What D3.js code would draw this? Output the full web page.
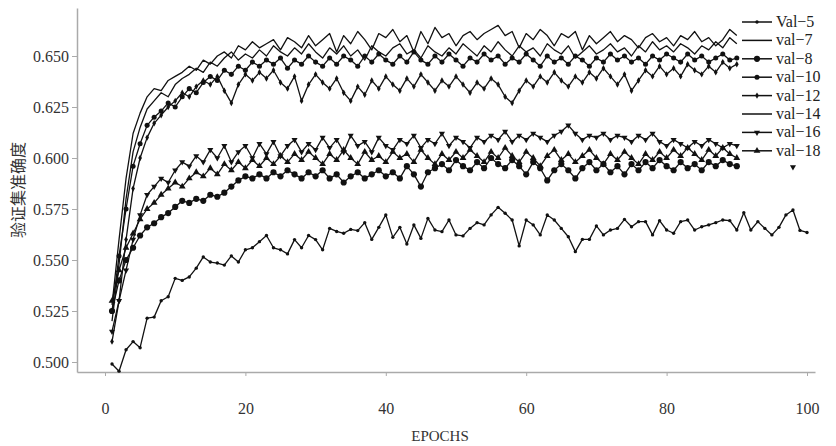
<!DOCTYPE html>
<html>
<head>
<meta charset="utf-8">
<script src="https://cdnjs.cloudflare.com/ajax/libs/d3/7.8.5/d3.min.js"></script>
<style>
  body { margin: 0; background: #fff; }
</style>
</head>
<body>
<div class="chart"></div>
<script>
// legend labels, top to bottom
const names = ["Val\u22125", "val\u22127", "val\u22128", "val\u221210", "val\u221212", "val\u221214", "val\u221216", "val\u221218"];
const xTicks = [0, 20, 40, 60, 80, 100];
const yTicks = [0.500, 0.525, 0.550, 0.575, 0.600, 0.625, 0.650];

// validation accuracy per epoch, starting at epoch 1
const val5 = [0.499,0.4955,0.506,0.510,0.507,0.5215,0.522,0.530,0.532,0.541,0.540,0.5417,0.546,0.5515,0.549,0.5485,0.5475,0.552,0.549,0.555,
  0.556,0.559,0.562,0.556,0.555,0.553,0.560,0.556,0.562,0.560,0.555,0.5655,0.564,0.5631,0.565,0.5644,0.5683,0.5601,0.566,0.5721,
  0.5611,0.566,0.5578,0.5672,0.5606,0.5704,0.5647,0.5639,0.5696,0.5623,0.5618,0.5655,0.5683,0.5672,0.5721,0.5758,0.5729,0.5696,0.5569,0.5696,
  0.5672,0.5623,0.5721,0.5696,0.5655,0.5614,0.5541,0.5601,0.5601,0.5667,0.5623,0.5647,0.5655,0.5699,0.5663,0.5688,0.5688,0.5623,0.5693,0.5647,
  0.5631,0.5688,0.5696,0.5647,0.5663,0.5672,0.5683,0.5696,0.5693,0.5647,0.5732,0.5647,0.5688,0.5655,0.5623,0.566,0.5721,0.5745,0.5645,0.5635];
const val7 = [0.528,0.560,0.590,0.612,0.622,0.630,0.634,0.633,0.638,0.640,0.642,0.645,0.643,0.648,0.646,0.650,0.652,0.649,0.655,0.653,
  0.657,0.654,0.656,0.658,0.653,0.659,0.657,0.654,0.660,0.655,0.658,0.661,0.652,0.660,0.656,0.662,0.658,0.653,0.661,0.659,
  0.663,0.657,0.660,0.652,0.662,0.656,0.664,0.659,0.661,0.655,0.660,0.662,0.658,0.661,0.663,0.665,0.660,0.662,0.654,0.661,
  0.658,0.663,0.660,0.655,0.661,0.659,0.662,0.653,0.660,0.656,0.659,0.662,0.657,0.660,0.658,0.654,0.659,0.661,0.657,0.659,
  0.655,0.660,0.658,0.662,0.657,0.659,0.655,0.658,0.663,0.660];
const val8 = [0.525,0.540,0.550,0.556,0.562,0.566,0.568,0.571,0.573,0.576,0.579,0.578,0.580,0.579,0.582,0.581,0.583,0.586,0.589,0.591,
  0.590,0.592,0.590,0.593,0.591,0.594,0.592,0.590,0.593,0.591,0.594,0.590,0.592,0.588,0.591,0.593,0.590,0.592,0.594,0.591,
  0.593,0.590,0.596,0.592,0.586,0.593,0.595,0.597,0.594,0.599,0.596,0.594,0.598,0.595,0.600,0.597,0.595,0.599,0.596,0.592,
  0.598,0.595,0.589,0.594,0.597,0.594,0.590,0.595,0.598,0.594,0.597,0.593,0.596,0.592,0.597,0.594,0.598,0.595,0.599,0.596,
  0.594,0.598,0.595,0.597,0.594,0.598,0.596,0.599,0.597,0.596];
const val10 = [0.525,0.552,0.575,0.596,0.607,0.616,0.620,0.623,0.627,0.625,0.630,0.634,0.632,0.637,0.640,0.638,0.643,0.641,0.645,0.643,
  0.647,0.645,0.648,0.646,0.649,0.644,0.648,0.646,0.650,0.647,0.645,0.649,0.646,0.650,0.648,0.645,0.650,0.647,0.651,0.648,
  0.646,0.650,0.647,0.652,0.648,0.646,0.650,0.647,0.651,0.648,0.645,0.649,0.647,0.651,0.648,0.650,0.646,0.649,0.647,0.651,
  0.648,0.645,0.650,0.647,0.649,0.646,0.650,0.648,0.645,0.649,0.647,0.651,0.648,0.650,0.647,0.649,0.646,0.650,0.648,0.651,
  0.649,0.647,0.651,0.648,0.650,0.647,0.649,0.651,0.648,0.649];
const val12 = [0.510,0.530,0.560,0.585,0.600,0.610,0.617,0.621,0.625,0.628,0.632,0.630,0.635,0.638,0.636,0.640,0.633,0.627,0.636,0.641,
  0.638,0.642,0.639,0.643,0.637,0.634,0.640,0.628,0.636,0.641,0.637,0.634,0.639,0.632,0.628,0.635,0.631,0.638,0.634,0.640,
  0.636,0.633,0.639,0.635,0.641,0.637,0.633,0.638,0.635,0.640,0.636,0.632,0.637,0.634,0.639,0.636,0.630,0.627,0.633,0.638,
  0.635,0.640,0.637,0.642,0.638,0.635,0.640,0.637,0.642,0.639,0.644,0.640,0.636,0.641,0.633,0.638,0.643,0.640,0.645,0.641,
  0.644,0.640,0.646,0.643,0.641,0.645,0.642,0.647,0.644,0.646];
const val14 = [0.520,0.548,0.580,0.603,0.615,0.624,0.628,0.632,0.630,0.636,0.639,0.641,0.644,0.642,0.647,0.645,0.649,0.652,0.648,0.651,
  0.649,0.653,0.650,0.655,0.652,0.650,0.654,0.651,0.656,0.652,0.649,0.654,0.651,0.655,0.650,0.653,0.648,0.655,0.652,0.650,
  0.654,0.656,0.651,0.653,0.649,0.655,0.652,0.650,0.654,0.651,0.656,0.653,0.650,0.655,0.652,0.657,0.653,0.650,0.655,0.652,
  0.654,0.650,0.656,0.653,0.651,0.655,0.649,0.652,0.655,0.651,0.653,0.656,0.652,0.654,0.650,0.655,0.652,0.657,0.653,0.655,
  0.652,0.656,0.654,0.651,0.655,0.653,0.657,0.654,0.659,0.656];
const val16 = [0.515,0.530,0.545,0.560,0.572,0.582,0.586,0.590,0.588,0.594,0.598,0.596,0.601,0.598,0.604,0.600,0.606,0.598,0.603,0.606,
  0.600,0.607,0.602,0.608,0.601,0.606,0.609,0.603,0.607,0.604,0.610,0.605,0.609,0.603,0.611,0.606,0.608,0.603,0.610,0.606,
  0.604,0.609,0.607,0.611,0.605,0.609,0.607,0.612,0.606,0.610,0.608,0.605,0.610,0.608,0.611,0.609,0.613,0.608,0.611,0.609,
  0.612,0.610,0.608,0.611,0.613,0.616,0.612,0.609,0.611,0.610,0.612,0.609,0.611,0.610,0.608,0.611,0.609,0.612,0.608,0.606,
  0.609,0.607,0.605,0.608,0.606,0.609,0.607,0.605,0.607,0.606,null,null,null,null,null,null,null,0.5956];
const val18 = [0.530,0.545,0.556,0.563,0.570,0.575,0.578,0.582,0.585,0.588,0.586,0.590,0.593,0.591,0.595,0.592,0.597,0.594,0.598,0.595,
  0.599,0.596,0.600,0.597,0.601,0.598,0.602,0.599,0.603,0.600,0.597,0.602,0.599,0.604,0.600,0.597,0.603,0.599,0.601,0.598,
  0.603,0.600,0.602,0.598,0.604,0.600,0.597,0.602,0.599,0.603,0.600,0.604,0.601,0.598,0.603,0.600,0.605,0.601,0.598,0.603,
  0.600,0.596,0.601,0.604,0.599,0.602,0.598,0.601,0.604,0.600,0.597,0.602,0.599,0.603,0.600,0.597,0.602,0.599,0.603,0.600,
  0.604,0.601,0.605,0.602,0.599,0.604,0.601,0.605,0.602,0.600];

const valuesList = [val5, val7, val8, val10, val12, val14, val16, val18];
const markers = [
  {type: d3.symbolCircle, size: 9, rot: 0},
  null,
  {type: d3.symbolCircle, size: 30, rot: 0},
  {type: d3.symbolCircle, size: 20, rot: 0},
  {type: d3.symbolDiamond, size: 12, rot: 0},
  null,
  {type: d3.symbolTriangle, size: 16, rot: 180},
  {type: d3.symbolTriangle, size: 20, rot: 0}
];

const serif = "'Liberation Serif', 'Times New Roman', serif";
const width = 836, height = 446;
const svg = d3.select(".chart").append("svg")
  .attr("width", width)
  .attr("height", height);

const x = d3.scaleLinear().domain([0, 100]).range([105, 807]);
const y = d3.scaleLinear().domain([0.5, 0.65]).range([362, 56]);

// axes reach a bit past the ticks, like the original
const xAxisScale = d3.scaleLinear().domain([x.invert(77), x.invert(815)]).range([77, 815]);
const yAxisScale = d3.scaleLinear().domain([y.invert(372), y.invert(8)]).range([372, 8]);

const axisColor = "#aaa";
const gx = svg.append("g")
  .attr("transform", "translate(0,372)")
  .call(d3.axisBottom(xAxisScale).tickValues(xTicks).tickSize(5).tickSizeOuter(0).tickPadding(26).tickFormat(d3.format("d")));
const gy = svg.append("g")
  .attr("transform", "translate(77,0)")
  .call(d3.axisLeft(yAxisScale).tickValues(yTicks).tickSize(5).tickSizeOuter(0).tickPadding(3).tickFormat(d3.format(".3f")));
[gx, gy].forEach(g => {
  g.attr("font-family", serif).attr("font-size", 16);
  g.select(".domain").attr("stroke", axisColor).attr("stroke-width", 1.5);
  g.selectAll(".tick line").attr("stroke", axisColor);
  g.selectAll(".tick text").attr("fill", "#333").style("font-family", serif).style("font-size", "16px");
});
gx.selectAll(".tick line").attr("y2", 4);

svg.append("text")
  .attr("x", 440).attr("y", 441)
  .attr("text-anchor", "middle")
  .style("font-family", serif)
  .style("font-size", "15px").attr("fill", "#333")
  .text("EPOCHS");

svg.append("text")
  .attr("transform", "translate(24,190) rotate(-90)")
  .attr("text-anchor", "middle")
  .style("font-family", "'Noto Sans CJK SC', sans-serif")
  .style("font-size", "16px").attr("fill", "#333")
  .text("验证集准确度");

const line = d3.line()
  .defined(d => d.v != null)
  .x(d => x(d.e))
  .y(d => y(d.v));

const series = names.map((name, i) => ({
  name: name,
  marker: markers[i],
  points: valuesList[i].map((v, j) => ({e: j + 1, v: v}))
}));

const sym = m => d3.symbol().type(m.type).size(m.size)();

series.forEach(s => {
  svg.append("path")
    .datum(s.points)
    .attr("fill", "none")
    .attr("stroke", "#111")
    .attr("stroke-width", 1.3)
    .attr("stroke-linejoin", "round")
    .attr("d", line);
  if (s.marker) {
    svg.selectAll(null)
      .data(s.points.filter(d => d.v != null))
      .enter()
      .append("path")
      .attr("d", sym(s.marker))
      .attr("fill", "#111")
      .attr("transform", d => `translate(${x(d.e)},${y(d.v)}) rotate(${s.marker.rot})`);
  }
});

// legend
const legend = svg.append("g").attr("transform", "translate(742,22)");
series.forEach((s, i) => {
  const row = legend.append("g").attr("transform", `translate(0,${i * 18.4})`);
  row.append("line").attr("x1", 0).attr("x2", 30).attr("y1", 0).attr("y2", 0)
    .attr("stroke", "#111").attr("stroke-width", 1.5);
  if (s.marker) {
    row.append("path").attr("d", sym(s.marker)).attr("fill", "#111")
      .attr("transform", `translate(15,0) rotate(${s.marker.rot})`);
  }
  row.append("text").attr("x", 34).attr("y", 5)
    .style("font-family", serif)
    .style("font-size", "16px").attr("fill", "#222")
    .text(s.name);
});
</script>
</body>
</html>
